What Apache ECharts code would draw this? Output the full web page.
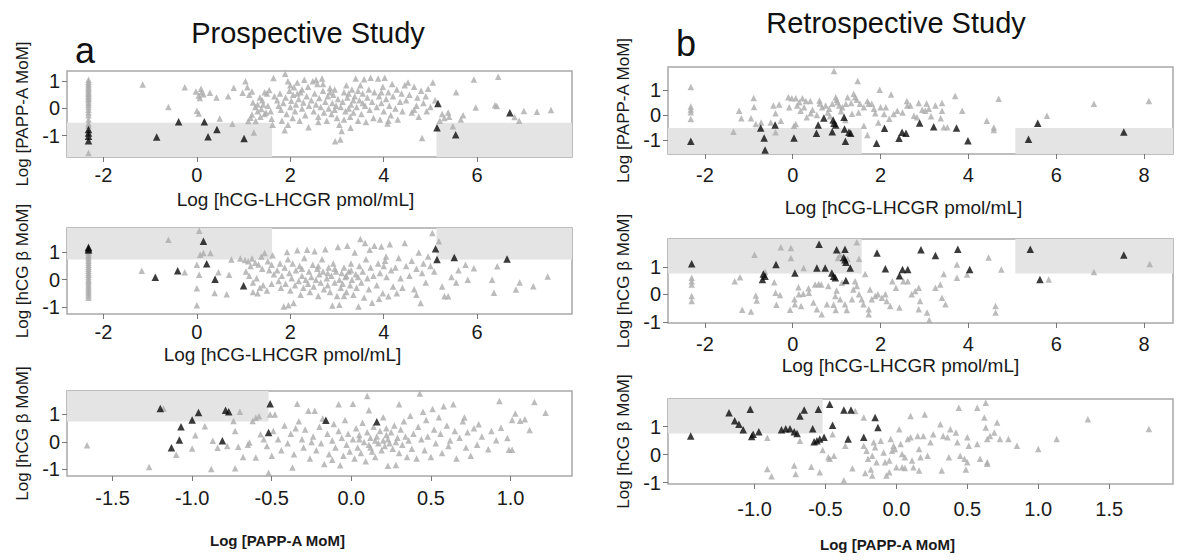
<!DOCTYPE html>
<html>
<head>
<meta charset="utf-8">
<script src="https://cdn.jsdelivr.net/npm/echarts@6/dist/echarts.min.js"></script>
<style>html,body{margin:0;padding:0;background:#fff}#c{width:1200px;height:560px}</style>
</head>
<body>
<div id="c"></div>
<script>
// ---------- tick labels ----------
const ticksHcgA = [-2, 0, 2, 4, 6];
const ticksHcgB = [-2, 0, 2, 4, 6, 8];
const ticksPappA = [-1.5, -1.0, -0.5, 0.0, 0.5, 1.0];
const ticksPappB = [-1.0, -0.5, 0.0, 0.5, 1.0, 1.5];
const ticksY = [-1, 0, 1];

// ---------- cut-offs (shaded regions) ----------
const cutHcgLowA = 1.61, cutHcgHighA = 5.13;
const cutHcgLowB = 1.57, cutHcgHighB = 5.07;
const cutPapp = -0.52;
const cutHcgBetaA = 0.74, cutHcgBetaB = 0.76;

// ---------- Prospective: PAPP-A vs hCG-LHCGR ----------
const aTopGray = [
[-2.32,1.05],[-2.32,0.98],[-2.32,0.92],[-2.32,0.85],[-2.32,0.78],[-2.32,0.72],[-2.32,0.66],[-2.32,0.6],[-2.32,0.54],[-2.32,0.48],[-2.32,0.42],[-2.32,0.36],[-2.32,0.3],[-2.32,0.22],[-2.32,0.15],[-2.32,0.05],[-2.32,-0.05],[-2.32,-0.15],[-2.32,-0.25],[-2.32,-0.4],[-2.32,-0.55],[-2.32,-0.62],[-2.32,-1.63],
[-1.16,0.88],[-0.61,0.05],[-0.26,0.78],[-0.02,0.62],[0.04,0.48],[0.09,0.72],[0.14,0.52],[0.06,0.38],[0.1,0.6],[0.0,-0.08],[0.04,-0.18],[0.28,0.58],[0.42,0.4],[0.49,-0.37],[0.67,0.45],[0.76,-0.56],[0.79,0.76],
[1.04,1.0],[1.08,0.78],[0.98,0.58],[1.12,0.5],[1.18,0.62],[1.22,-0.88],[1.2,0.22],[1.25,0.05],[1.3,-0.1],[1.18,-0.22],[1.15,-0.34],[1.1,-0.46],[1.26,-0.46],[1.35,0.4],[1.4,0.3],[1.42,0.15],[1.38,-0.02],[1.45,-0.2],[1.36,-0.3],[1.5,0.55],[1.55,0.68],[1.52,0.1],[1.58,-0.1],[1.6,-0.38],[1.62,-0.6],[1.48,-0.15],[1.3,0.15],[1.64,1.12],[1.66,0.45],[1.45,0.6],
[1.72,0.3],[1.75,0.1],[1.78,0.55],[1.8,-0.05],[1.85,0.2],[1.89,1.27],[1.9,0.4],[1.92,-0.2],[1.95,1.0],[1.98,0.65],[2.0,0.05],[2.02,0.28],[2.05,-0.35],[2.06,0.5],[2.08,0.78],[2.1,-0.1],[2.12,0.15],[2.15,0.95],[2.18,0.35],[2.2,-0.45],[2.22,0.6],[2.25,0.0],[2.28,0.22],[2.3,1.05],[2.32,-0.25],[2.35,0.45],[2.38,0.8],[2.39,-0.69],[2.4,0.1],[1.82,-0.45],[1.95,-0.6],[1.88,-0.8],[2.0,0.85],[2.15,0.55],[2.25,0.7],
[2.45,0.3],[2.48,1.0],[2.5,-0.1],[2.52,0.55],[2.55,0.15],[2.58,0.9],[2.6,-0.3],[2.62,0.38],[2.65,0.05],[2.68,1.1],[2.7,0.65],[2.72,-0.15],[2.75,0.25],[2.78,-0.45],[2.8,0.45],[2.82,0.0],[2.85,0.75],[2.88,-0.2],[2.9,0.2],[2.92,0.5],[2.95,-0.05],[2.96,-1.2],[2.98,0.1],[3.0,-0.35],[3.02,0.35],[3.05,-0.6],[3.07,-1.14],[3.08,0.05],[3.1,-0.83],[2.55,1.05],[2.7,0.9],[2.85,0.6],[2.6,-0.5],[2.95,0.7],
[3.12,0.25],[3.15,0.6],[3.18,-0.1],[3.2,0.85],[3.22,0.4],[3.25,0.0],[3.28,-0.3],[3.29,-0.71],[3.3,0.15],[3.32,0.7],[3.35,-0.15],[3.38,0.45],[3.4,1.1],[3.42,0.05],[3.45,-0.45],[3.48,0.3],[3.5,0.85],[3.52,-0.2],[3.55,0.55],[3.58,1.07],[3.6,0.1],[3.62,-0.5],[3.65,0.4],[3.68,0.7],[3.7,-0.05],[3.72,1.13],[3.75,0.25],[3.78,-0.35],[3.8,0.6],[3.15,-0.4],[3.35,0.3],[3.55,0.2],[3.25,0.55],[3.45,0.65],
[3.85,0.05],[3.88,1.1],[3.9,0.45],[3.92,-0.4],[3.95,0.2],[3.98,0.8],[4.0,-0.1],[4.02,1.13],[4.05,0.35],[4.08,-0.55],[4.1,0.6],[4.12,0.1],[4.15,-0.25],[4.18,0.9],[4.2,0.45],[4.25,0.0],[4.28,0.7],[4.3,-0.4],[4.35,0.25],[4.38,0.55],[4.4,-0.1],[4.45,0.85],[4.48,0.3],[4.1,-0.45],[3.95,0.6],
[4.52,0.95],[4.55,0.5],[4.6,-0.15],[4.65,0.8],[4.7,0.1],[4.72,0.4],[4.75,-0.3],[4.8,0.65],[4.82,-1.08],[4.85,0.2],[4.9,0.45],[4.92,-0.1],[4.95,0.72],[5.0,0.05],[5.05,0.95],[5.1,0.3],[4.65,-0.05],
[5.25,-0.2],[5.3,-0.35],[5.38,-0.15],[5.4,-0.3],[5.48,-0.65],[5.55,0.6],[5.65,-0.4],[5.7,-0.25],[5.93,1.06],[5.97,0.04],[6.42,0.09],[6.45,1.16],[6.8,-0.31],[6.9,-0.45],[7.0,-0.09],[7.28,-0.12],[7.58,-0.06],[5.2,-0.45],[6.38,0.12]
];
const aTopBlack = [[-2.32,-0.77],[-2.32,-0.9],[-2.32,-1.02],[-2.32,-1.18],[-0.86,-1.05],[-0.39,-0.49],[0.16,-0.49],[0.43,-0.77],[0.24,-1.04],[1.01,-1.1],[5.16,0.18],[5.14,-0.71],[5.54,-0.96],[6.7,-0.16]];

// ---------- Prospective: hCG beta vs hCG-LHCGR ----------
const aMidGray = [
[-2.32,1.0],[-2.32,0.92],[-2.32,0.85],[-2.32,0.78],[-2.32,0.7],[-2.32,0.62],[-2.32,0.55],[-2.32,0.48],[-2.32,0.4],[-2.32,0.33],[-2.32,0.25],[-2.32,0.18],[-2.32,0.1],[-2.32,0.02],[-2.32,-0.05],[-2.32,-0.12],[-2.32,-0.2],[-2.32,-0.28],[-2.32,-0.35],[-2.32,-0.42],[-2.32,-0.5],[-2.32,-0.58],[-2.32,-0.66],
[-1.18,0.33],[-0.61,1.47],[-0.26,0.27],[0.05,1.8],[0.07,0.92],[0.14,0.98],[0.29,0.98],[0.0,0.55],[0.05,0.18],[0.0,-0.31],[0.0,-0.94],[0.38,-0.49],[0.46,0.27],[0.64,-0.53],[0.69,0.18],[0.74,0.74],
[0.93,0.78],[1.03,0.72],[1.1,0.68],[1.18,0.78],[1.25,0.62],[1.32,0.56],[1.38,0.85],[1.45,0.98],[1.52,0.68],[1.62,0.9],[1.05,0.3],[1.12,0.15],[1.2,-0.1],[1.28,0.05],[1.35,-0.3],[1.42,-0.2],[1.5,-0.4],[1.55,0.35],[1.6,-0.15],[1.65,0.2],[1.3,-0.5],[1.2,-0.45],[1.4,0.4],[1.15,0.5],[1.6,0.55],
[1.72,0.35],[1.75,-0.05],[1.78,0.6],[1.8,-0.3],[1.82,0.15],[1.86,-0.98],[1.88,0.45],[1.9,-0.15],[1.93,1.02],[1.96,-0.94],[1.98,0.25],[2.0,-0.4],[2.03,0.05],[2.05,0.6],[2.07,-0.86],[2.1,-0.2],[2.12,0.35],[2.15,1.08],[2.18,-0.05],[2.2,0.5],[2.22,-0.55],[2.25,0.15],[2.28,-0.3],[2.3,0.8],[2.33,0.0],[2.36,1.1],[2.38,-0.15],[2.4,0.3],[1.95,0.75],[2.25,0.4],
[2.42,-0.45],[2.45,0.1],[2.48,0.55],[2.5,-0.25],[2.52,1.05],[2.55,0.0],[2.58,0.4],[2.6,-0.6],[2.62,0.2],[2.65,-0.1],[2.68,0.75],[2.7,0.3],[2.72,-0.35],[2.75,1.12],[2.78,0.05],[2.8,-0.2],[2.82,0.45],[2.85,-0.45],[2.88,0.15],[2.9,-0.95],[2.92,0.6],[2.95,-0.1],[2.98,0.3],[3.0,-0.6],[3.02,1.2],[3.05,0.0],[3.08,-0.3],[3.1,0.25],[2.6,0.5],[2.8,0.25],[2.95,0.4],[3.05,-0.92],
[3.12,-0.15],[3.15,0.45],[3.18,0.1],[3.2,-0.45],[3.22,1.25],[3.25,0.3],[3.28,-0.2],[3.3,0.6],[3.32,0.0],[3.35,-0.55],[3.38,1.0],[3.4,0.2],[3.42,-0.3],[3.46,-0.98],[3.48,0.5],[3.5,1.5],[3.52,-0.1],[3.55,0.3],[3.58,-0.65],[3.6,1.35],[3.62,0.75],[3.65,0.05],[3.68,-0.35],[3.7,1.1],[3.72,0.45],[3.75,-0.85],[3.78,0.15],[3.8,1.25],[3.2,0.15],[3.3,0.35],[3.45,0.1],[3.15,-0.6],
[3.85,-0.2],[3.88,0.6],[3.92,0.25],[3.95,1.22],[3.98,-0.5],[4.0,0.5],[4.03,0.7],[4.06,0.1],[4.1,-0.61],[4.13,1.3],[4.16,0.35],[4.2,-0.25],[4.25,0.45],[4.28,-0.5],[4.32,0.8],[4.36,0.05],[4.4,-0.3],[4.45,1.35],[4.48,0.5],[3.9,-0.7],[4.05,0.85],
[4.55,0.15],[4.6,0.7],[4.65,-0.35],[4.7,0.4],[4.75,1.0],[4.79,-0.86],[4.82,0.25],[4.85,0.6],[4.9,-0.1],[4.95,0.85],[5.0,0.5],[5.04,1.72],[5.08,0.3],[5.18,1.41],[4.7,-0.55],
[5.25,-0.25],[5.3,-0.61],[5.38,-0.61],[5.45,0.1],[5.55,-0.1],[5.6,0.35],[5.75,0.55],[5.93,0.42],[5.8,0.0],[6.32,0.0],[6.36,-0.48],[6.43,0.49],[6.83,-0.36],[6.91,-0.1],[7.2,-0.24],[7.51,0.12]
];
const aMidBlack = [[-2.32,1.19],[-2.32,1.14],[-2.32,1.09],[0.14,1.41],[0.21,0.59],[-0.41,0.33],[-0.89,0.09],[0.39,0.02],[1.0,-0.22],[5.11,1.14],[5.14,0.74],[5.51,0.82],[6.64,0.76]];

// ---------- Prospective: hCG beta vs PAPP-A ----------
const aBotGray = [
[-1.66,-0.12],[-1.27,-0.91],[-1.18,1.21],[-1.1,-0.47],[-1.0,-0.24],[-0.98,0.24],[-0.92,0.57],[-0.88,-0.99],[-0.87,0.04],[-0.84,-0.21],[-0.78,-0.15],[-0.73,-0.96],[-0.74,0.76],[-0.73,0.4],[-0.7,1.1],[-0.71,-0.18],[-0.68,-0.55],[-0.65,-0.1],[-0.64,-0.02],[-0.62,0.76],[-0.6,0.88],[-0.58,0.93],[-0.6,-0.57],[-0.57,0.28],[-0.55,0.1],[-0.53,-0.15],[-0.52,-1.12],[-0.51,1.0],[-0.48,1.0],[-0.49,0.4],[-0.5,-0.5],[-0.46,0.1],[-0.44,-0.3],
[-0.42,0.6],[-0.4,-0.05],[-0.38,0.3],[-0.37,-0.93],[-0.36,-0.45],[-0.34,1.39],[-0.33,0.75],[-0.31,0.1],[-0.3,-0.2],[-0.29,0.45],[-0.27,1.13],[-0.26,-0.6],[-0.24,0.2],[-0.23,1.13],[-0.22,-0.3],[-0.2,0.55],[-0.19,-0.05],[-0.18,0.85],[-0.17,-0.8],[-0.15,0.3],[-0.14,-0.45],[-0.12,0.05],[-0.11,0.65],[-0.1,-0.2],[-0.08,1.37],[-0.08,0.4],[-0.07,-0.85],[-0.06,0.15],[-0.05,-0.5],[-0.04,0.8],[-0.03,-0.1],[-0.02,0.3],[-0.01,-0.35],[-0.12,-0.65],[-0.25,0.0],[-0.35,0.5],
[0.01,1.39],[0.01,0.1],[0.02,-0.6],[0.03,0.5],[0.04,-0.2],[0.05,0.25],[0.06,-0.4],[0.07,0.7],[0.08,0.0],[0.09,-0.7],[0.1,1.67],[0.1,0.35],[0.11,1.15],[0.11,-0.1],[0.12,0.15],[0.13,-0.35],[0.14,0.55],[0.15,-0.55],[0.16,0.2],[0.17,-0.05],[0.18,0.4],[0.19,-0.3],[0.2,0.05],[0.2,0.9],[0.21,-0.15],[0.22,0.25],[0.23,-0.87],[0.23,0.1],[0.24,-0.05],[0.25,0.35],[0.26,-0.25],[0.27,0.6],[0.28,-0.84],[0.28,0.0],[0.29,0.15],[0.3,1.37],[0.3,-0.4],[0.31,0.45],[0.32,-0.1],[0.33,0.75],[0.34,0.2],[0.35,-0.55],[0.36,0.05],[0.37,0.95],[0.38,-0.25],[0.39,0.3],[0.15,0.05],[0.22,0.5],[0.05,0.1],[0.12,-0.2],
[0.41,-0.6],[0.42,0.55],[0.43,1.76],[0.44,0.1],[0.45,1.1],[0.46,-0.3],[0.47,0.8],[0.48,0.2],[0.5,-0.55],[0.51,1.2],[0.52,0.45],[0.53,-0.05],[0.55,0.9],[0.56,0.3],[0.57,-0.4],[0.58,1.3],[0.6,0.6],[0.61,-0.15],[0.62,0.05],[0.64,1.37],[0.65,0.4],[0.66,-0.6],[0.68,0.15],[0.7,0.75],[0.71,0.89],[0.72,-0.2],[0.73,0.35],[0.75,-0.5],[0.77,0.5],[0.8,0.64],[0.79,-0.1],
[0.82,0.2],[0.86,-0.27],[0.88,0.4],[0.91,0.06],[0.93,1.49],[0.94,0.51],[0.98,0.14],[0.99,-0.29],[1.01,-0.29],[1.01,0.8],[1.03,1.03],[1.06,0.77],[1.09,0.82],[1.12,0.43],[1.15,1.45],[1.22,1.06]
];
const aBotBlack = [[-1.2,1.21],[-0.96,1.07],[-1.0,0.8],[-1.07,0.55],[-1.08,0.07],[-1.13,-0.21],[-0.79,1.15],[-0.77,1.1],[-0.81,0.04],[-0.51,1.39],[-0.52,0.34],[-0.16,0.79],[0.16,0.73]];

// ---------- Retrospective: PAPP-A vs hCG-LHCGR ----------
const bTopGray = [
[-2.32,1.11],[-2.32,0.33],[-2.32,0.21],[-2.32,0.11],[-2.32,-0.16],[-1.35,-0.67],[-1.22,0.17],[-1.17,-0.13],[-0.95,-0.13],[-0.89,0.67],[-0.88,0.31],[-0.84,-0.36],[-0.72,-0.3],[-0.44,0.37],[-0.31,0.41],[-0.39,0.07],[-0.39,-0.69],[-0.27,-0.23],[-0.1,0.7],[-0.02,0.66],[0.07,0.66],[0.22,0.66],[-0.08,0.3],[0.1,0.37],[0.18,0.17],[0.03,-0.43],[0.07,-0.36],[0.26,0.3],[0.32,-0.09],[0.41,0.07],[0.61,0.57],[0.67,0.3],[0.75,0.37],[0.83,0.24],[0.9,0.44],[0.98,0.7],[1.02,0.5],[1.06,0.37],[1.13,0.3],[1.21,0.44],[1.25,0.7],[1.33,0.47],[0.94,1.75],[1.48,1.35],[1.39,0.84],[1.42,0.7],[1.46,0.6],[1.53,0.44],[1.62,0.3],[1.73,0.44],[1.8,0.44],[1.85,0.24],[1.88,0.07],[1.7,-0.8],[1.62,-0.43],[1.98,1.0],[2.08,0.04],[2.12,0.3],[2.24,0.81],[2.3,0.04],[2.38,0.17],[2.61,0.37],[2.68,0.37],[2.76,-0.03],[2.83,-0.09],[2.87,0.47],[3.02,0.17],[3.1,0.24],[3.25,0.37],[3.4,0.47],[3.4,0.17],[3.37,-0.13],[3.44,-0.49],[3.52,-0.49],[3.7,0.75],[3.86,0.17],[4.42,-0.23],[4.58,-0.6],[4.58,-0.5],[4.69,0.64],[5.79,-0.03],[6.86,0.44],[8.11,0.55],
[0.45,0.2],[0.55,0.0],[0.8,0.1],[1.1,0.15],[1.2,-0.2],[1.35,0.05],[1.5,0.1],[0.3,0.55],[0.62,0.45],[1.0,0.6],[0.85,-0.05],[2.0,0.3],[2.5,0.1],[2.2,-0.15],[1.95,-0.3],[2.95,0.2],[3.15,-0.05],[0.15,0.5],[-0.5,-0.3],[0.4,0.55],[1.7,0.55],[2.6,0.55],[3.05,0.45]
];
const bTopBlack = [[-2.32,-1.05],[-0.73,-0.52],[-0.65,-0.92],[-0.63,-1.4],[-0.4,-0.4],[0.03,-0.92],[0.54,-0.73],[0.58,-0.4],[0.71,-0.12],[0.92,-0.2],[0.94,-0.33],[0.98,-0.4],[0.9,-0.67],[1.17,-0.09],[1.18,-0.56],[1.2,-1.05],[1.28,-0.69],[1.32,-0.73],[1.91,-1.13],[2.09,-0.53],[2.42,-0.93],[2.49,-0.69],[2.58,-0.73],[2.89,-0.32],[3.21,-0.47],[3.73,-0.52],[3.99,-1.03],[5.37,-0.97],[5.58,-0.33],[7.54,-0.68]];

// ---------- Retrospective: hCG beta vs hCG-LHCGR ----------
const bMidGray = [
[-2.3,0.6],[-2.3,0.48],[-2.3,0.36],[-2.3,-0.06],[-2.3,-0.24],[-1.32,0.48],[-1.2,0.62],[-1.15,-0.56],[-0.95,-0.62],[-0.87,1.44],[-0.84,-0.04],[-0.82,-0.22],[-0.63,0.81],[-0.42,0.44],[-0.39,0.06],[-0.29,-0.02],[-0.37,-0.38],[-0.27,1.71],[-0.04,1.68],[-0.04,1.32],[-0.06,-0.56],
[0.04,-0.18],[0.05,-0.36],[0.13,0.26],[0.14,0.0],[0.19,-0.42],[0.24,0.02],[0.25,0.96],[0.36,0.22],[0.37,0.06],[0.47,-0.3],[0.59,0.38],[0.65,0.36],[0.66,-0.72],[0.81,0.3],[0.93,-0.38],[0.97,-0.06],[0.98,-0.57],[1.0,0.14],[1.08,-0.18],[1.12,0.42],[1.19,-0.36],[1.23,-0.57],[1.03,1.32],[1.08,1.44],[1.25,1.28],[0.51,0.36],[0.78,-0.36],[1.35,-0.18],[1.38,0.18],[0.55,-0.54],
[1.46,1.89],[1.51,1.29],[1.42,0.48],[1.46,0.3],[1.51,0.0],[1.57,-0.18],[1.61,-0.36],[1.65,0.74],[1.73,-0.54],[1.73,-0.72],[1.76,0.18],[1.8,-0.18],[1.88,-0.06],[1.94,0.0],[2.03,-0.12],[2.11,0.0],[2.14,-0.24],[2.22,-0.42],[2.27,0.48],[2.35,0.24],[2.43,-0.48],[2.52,0.48],[2.62,0.48],[2.71,0.0],[2.79,0.12],[2.87,0.24],[2.9,-0.24],[2.87,-0.54],[3.06,-0.66],[3.11,-0.93],[3.25,0.24],[3.36,0.36],[3.4,-0.12],[3.48,-0.36],[3.44,0.74],[3.74,1.08],[3.74,0.6],[3.97,0.72],[4.46,1.34],[4.62,-0.42],[4.62,-0.66],[4.75,0.9],[5.83,0.54],[6.86,0.81],[8.13,1.1]
];
const bMidBlack = [[-2.3,1.11],[-0.67,0.74],[-0.63,0.66],[-0.69,0.54],[-0.38,1.08],[0.05,0.78],[0.6,1.82],[0.55,0.96],[0.74,0.96],[0.89,0.78],[0.93,0.66],[0.97,0.6],[1.0,1.62],[1.19,1.64],[1.16,1.34],[1.19,1.26],[1.21,1.17],[1.31,0.96],[1.21,0.5],[1.92,1.5],[2.11,0.93],[2.43,0.68],[2.5,0.9],[2.62,0.9],[2.92,1.62],[3.25,1.41],[3.76,1.64],[4.03,0.9],[5.41,1.64],[5.63,0.54],[7.54,1.43]];

// ---------- Retrospective: hCG beta vs PAPP-A ----------
const bBotGray = [
[-0.91,0.6],[-0.91,-0.51],[-0.88,-0.77],[-0.72,-0.39],[-0.71,-0.69],[-0.68,0.5],[-0.6,-0.43],[-0.54,-0.63],[-0.52,0.17],[-0.48,-0.09],[-0.47,-0.15],[-0.44,-0.04],[-0.45,0.73],[-0.37,-0.92],[-0.36,0.32],[-0.31,-0.49],[-0.29,1.56],[-0.23,1.33],[-0.21,0.14],[-0.2,-0.15],[-0.22,-0.66],[-0.18,-0.53],[-0.17,-0.75],[-0.16,0.44],[-0.11,0.5],[-0.14,-0.27],
[-0.23,0.32],[-0.17,-0.04],[-0.15,0.26],[-0.09,0.08],[-0.07,-0.75],[-0.04,0.56],[-0.05,-0.63],
[-0.08,-0.27],[-0.05,-0.21],[-0.03,0.14],[-0.02,0.32],[-0.01,0.2],[0.02,0.91],[0.03,0.38],[0.04,0.02],[0.06,-0.09],[0.08,0.56],[0.1,0.62],[0.11,-0.21],[0.12,-0.45],[0.15,0.67],[0.16,0.2],[0.17,-0.09],[0.19,0.67],[0.22,-0.04],[0.24,0.44],[0.26,0.73],[0.1,1.38],[0.2,1.44],[0.31,1.09],[0.33,0.67],[0.36,0.62],[0.37,-0.09],[0.38,0.91],[0.42,0.79],[0.43,0.44],[0.44,1.68],[0.45,-0.04],[0.48,-0.15],[0.5,-0.27],[0.51,0.32],[0.5,0.62],[0.57,0.38],[0.59,-0.15],[0.62,1.33],[0.63,0.97],[0.64,-0.27],[0.66,0.67],[0.69,0.79],[0.71,1.15],[0.73,0.56],[0.79,0.56],[0.85,0.32],[1.0,0.2],[1.13,0.56],[1.35,1.27],[1.78,0.92],
[0.63,1.86],[0.57,1.68],[0.32,-0.57],[0.49,-0.53],[0.64,-0.33],[0.16,-0.57],[0.0,-0.45],[0.04,-0.45],[0.06,-0.48],[0.64,0.56]
];
const bBotBlack = [[-1.45,0.67],[-1.18,1.5],[-1.14,1.21],[-1.11,1.09],[-1.08,0.89],[-1.03,1.62],[-1.02,0.65],[-1.01,0.73],[-0.97,0.82],[-0.81,0.89],[-0.78,0.93],[-0.75,0.93],[-0.72,0.82],[-0.7,0.76],[-0.68,1.38],[-0.65,1.6],[-0.59,0.93],[-0.58,0.46],[-0.56,0.5],[-0.54,0.56],[-0.51,0.62],[-0.55,1.62],[-0.47,1.8],[-0.45,1.05],[-0.37,1.6],[-0.32,1.6],[-0.34,0.56],[-0.23,0.62],[-0.15,1.33],[-0.13,0.97]];

// ---------- build ----------
const chart = echarts.init(document.getElementById('c'), null, {renderer: 'svg'});
const FONT = 'Liberation Sans, Arial, sans-serif';
const grids = [
  {left: 67, top: 71, width: 505, height: 86},
  {left: 67, top: 228, width: 505, height: 86},
  {left: 67, top: 391, width: 505, height: 85},
  {left: 668, top: 67, width: 505, height: 87},
  {left: 668, top: 239, width: 505, height: 84},
  {left: 668, top: 399, width: 505, height: 85}
].map(g => Object.assign({show: true, borderColor: '#a8a8a8', borderWidth: 1.5, backgroundColor: '#fff'}, g));

function xAx(i, min, max, ticks, name, gap, padR, margin, bold, dec) {
  return {
    type: 'value', gridIndex: i, min: min, max: max, position: 'bottom',
    splitLine: {show: false}, axisLine: {show: false, onZero: false},
    axisTick: {show: true, length: 5, inside: false, customValues: ticks, lineStyle: {color: '#777'}},
    axisLabel: {customValues: ticks, fontSize: 20, color: '#1a1a1a', fontFamily: FONT, margin: margin,
      formatter: v => dec ? v.toFixed(1) : String(v)},
    name: name, nameLocation: 'middle', nameGap: gap,
    nameTextStyle: {fontSize: bold ? 15 : 19, fontWeight: bold ? 'bold' : 'normal', color: '#1a1a1a', fontFamily: FONT, padding: [0, padR, 0, 0]}
  };
}
function yAx(i, min, max, name) {
  return {
    type: 'value', gridIndex: i, min: min, max: max, position: 'left',
    splitLine: {show: false}, axisLine: {show: false, onZero: false},
    axisTick: {show: true, length: 5, inside: false, customValues: ticksY, lineStyle: {color: '#777'}},
    axisLabel: {customValues: ticksY, fontSize: 20, color: '#1a1a1a', fontFamily: FONT, margin: 7},
    name: name, nameLocation: 'middle', nameGap: 36, nameRotate: 90,
    nameTextStyle: {fontSize: 17, color: '#1a1a1a', fontFamily: FONT}
  };
}
const xAxes = [
  xAx(0, -2.78, 8.03, ticksHcgA, 'Log [hCG-LHCGR pmol/mL]', 33, 48, 8, false, false),
  xAx(1, -2.78, 8.03, ticksHcgA, 'Log [hCG-LHCGR pmol/mL]', 31, 74, 8, false, false),
  xAx(2, -1.786, 1.386, ticksPappA, 'Log [PAPP-A MoM]', 57, 84, 12, true, true),
  xAx(3, -2.84, 8.66, ticksHcgB, 'Log [hCG-LHCGR pmol/mL]', 44, 34, 11, false, false),
  xAx(4, -2.84, 8.66, ticksHcgB, 'Log [hCG-LHCGR pmol/mL]', 33, 40, 11, false, false),
  xAx(5, -1.61, 1.95, ticksPappB, 'Log [PAPP-A MoM]', 53, 66, 15, true, true)
];
const yAxes = [
  yAx(0, -1.78, 1.375, 'Log [PAPP-A MoM]'),
  yAx(1, -1.26, 1.9, 'Log [hCG β MoM]'),
  yAx(2, -1.24, 1.85, 'Log [hCG β MoM]'),
  yAx(3, -1.56, 1.91, 'Log [PAPP-A MoM]'),
  yAx(4, -1.04, 2.01, 'Log [hCG β MoM]'),
  yAx(5, -1.05, 1.99, 'Log [hCG β MoM]')
];
const shadeAreas = [
  [[[xAxes[0].min, yAxes[0].min], [cutHcgLowA, cutPapp]], [[cutHcgHighA, yAxes[0].min], [xAxes[0].max, cutPapp]]],
  [[[xAxes[1].min, cutHcgBetaA], [cutHcgLowA, yAxes[1].max]], [[cutHcgHighA, cutHcgBetaA], [xAxes[1].max, yAxes[1].max]]],
  [[[xAxes[2].min, cutHcgBetaA], [cutPapp, yAxes[2].max]]],
  [[[xAxes[3].min, yAxes[3].min], [cutHcgLowB, cutPapp]], [[cutHcgHighB, yAxes[3].min], [xAxes[3].max, cutPapp]]],
  [[[xAxes[4].min, cutHcgBetaB], [cutHcgLowB, yAxes[4].max]], [[cutHcgHighB, cutHcgBetaB], [xAxes[4].max, yAxes[4].max]]],
  [[[xAxes[5].min, cutHcgBetaB], [cutPapp, yAxes[5].max]]]
];
const grayData = [aTopGray, aMidGray, aBotGray, bTopGray, bMidGray, bBotGray];
const blackData = [aTopBlack, aMidBlack, aBotBlack, bTopBlack, bMidBlack, bBotBlack];
const series = [];
for (let i = 0; i < 6; i++) {
  series.push({type: 'scatter', xAxisIndex: i, yAxisIndex: i, data: [], z: 1, silent: true,
    markArea: {silent: true, itemStyle: {color: '#e4e4e4'},
      data: shadeAreas[i].map(a => [{coord: a[0]}, {coord: a[1]}])}});
  series.push({type: 'scatter', xAxisIndex: i, yAxisIndex: i, data: grayData[i], symbol: 'triangle', symbolSize: 6.5,
    itemStyle: {color: '#ababab'}, z: 2, silent: true});
  series.push({type: 'scatter', xAxisIndex: i, yAxisIndex: i, data: blackData[i], symbol: 'triangle', symbolSize: 7.5,
    itemStyle: {color: '#0a0a0a'}, z: 3, silent: true});
}
chart.setOption({
  animation: false,
  backgroundColor: '#fff',
  title: [
    {text: 'Prospective Study', left: 303, top: 13, textAlign: 'center', textStyle: {fontSize: 29, fontWeight: 'normal', color: '#111', fontFamily: FONT}},
    {text: 'a', left: 70, top: 27, textStyle: {fontSize: 36, fontWeight: 'normal', color: '#111', fontFamily: FONT}},
    {text: 'Retrospective Study', left: 891, top: 3, textAlign: 'center', textStyle: {fontSize: 29, fontWeight: 'normal', color: '#111', fontFamily: FONT}},
    {text: 'b', left: 671, top: 20, textStyle: {fontSize: 36, fontWeight: 'normal', color: '#111', fontFamily: FONT}}
  ],
  grid: grids,
  xAxis: xAxes,
  yAxis: yAxes,
  series: series
});
</script>
</body>
</html>
